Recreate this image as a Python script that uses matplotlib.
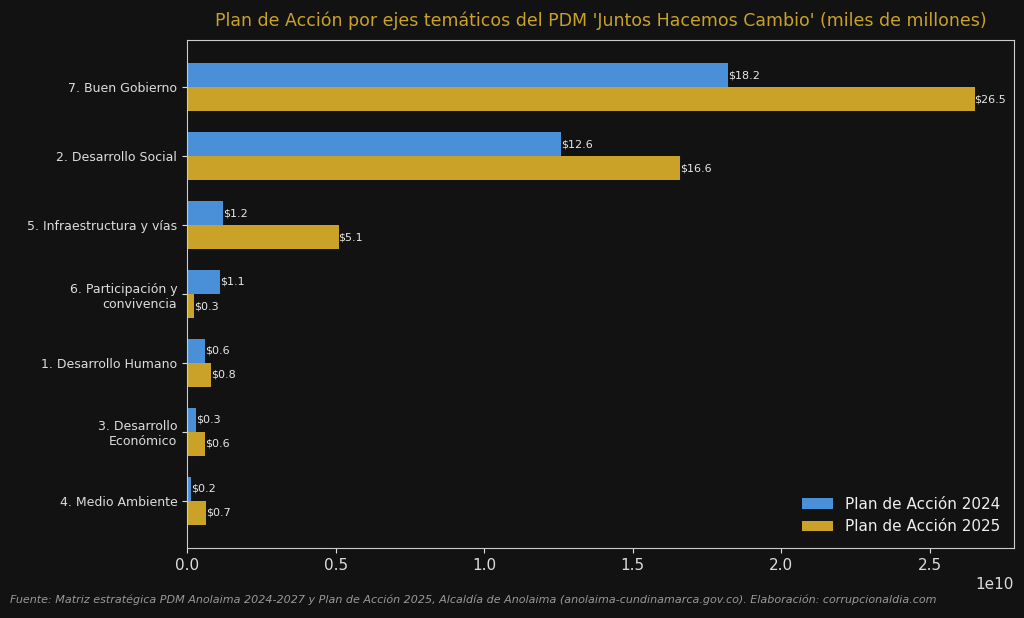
import matplotlib
matplotlib.use("Agg")
import matplotlib.pyplot as plt
import numpy as np

categories = ["7. Buen Gobierno", "2. Desarrollo Social", "5. Infraestructura y vías",
              "6. Participación y\nconvivencia", "1. Desarrollo Humano",
              "3. Desarrollo\nEconómico", "4. Medio Ambiente"]
v2024 = [18.2e9, 12.6e9, 1.2e9, 1.1e9, 0.6e9, 0.3e9, 0.15e9]
v2025 = [26.5e9, 16.6e9, 5.1e9, 0.25e9, 0.8e9, 0.6e9, 0.65e9]
lab2024 = ["$18.2", "$12.6", "$1.2", "$1.1", "$0.6", "$0.3", "$0.2"]
lab2025 = ["$26.5", "$16.6", "$5.1", "$0.3", "$0.8", "$0.6", "$0.7"]

bg = "#121212"
blue = "#4a90d9"
gold = "#c9a227"
fig = plt.figure(figsize=(10.24, 6.18), dpi=100, facecolor=bg)
ax = fig.add_axes([187/1024, 1-548/618, (1014-187)/1024, (548-40)/618], facecolor=bg)
y = np.arange(len(categories))
h = 0.35
b1 = ax.barh(y - h/2, v2024, h, color=blue, label="Plan de Acción 2024")
b2 = ax.barh(y + h/2, v2025, h, color=gold, label="Plan de Acción 2025")
for bars, labs in ((b1, lab2024), (b2, lab2025)):
    for r, t in zip(bars, labs):
        ax.text(r.get_width(), r.get_y() + r.get_height()/2, t, va="center", ha="left",
                color="#e8e8e8", fontsize=8)
ax.set_yticks(y)
ax.set_yticklabels(categories)
ax.invert_yaxis()
ax.tick_params(colors="#dddddd", labelsize=9)
ax.tick_params(axis="x", labelsize=11)
ax.xaxis.get_offset_text().set_color("#dddddd")
ax.xaxis.get_offset_text().set_fontsize(11)
for s in ax.spines.values():
    s.set_color("#cccccc")
ax.set_title("Plan de Acción por ejes temáticos del PDM 'Juntos Hacemos Cambio' (miles de millones)",
             color=gold, fontsize=12.5, pad=10)
leg = ax.legend(loc="lower right", frameon=False, fontsize=11)
for t in leg.get_texts():
    t.set_color("#eeeeee")
fig.text(0.01, 0.025, "Fuente: Matriz estratégica PDM Anolaima 2024-2027 y Plan de Acción 2025, Alcaldía de Anolaima (anolaima-cundinamarca.gov.co). Elaboración: corrupcionaldia.com",
         color="#999999", fontsize=8, style="italic")
fig.savefig("out.png", dpi=100, facecolor=bg)
